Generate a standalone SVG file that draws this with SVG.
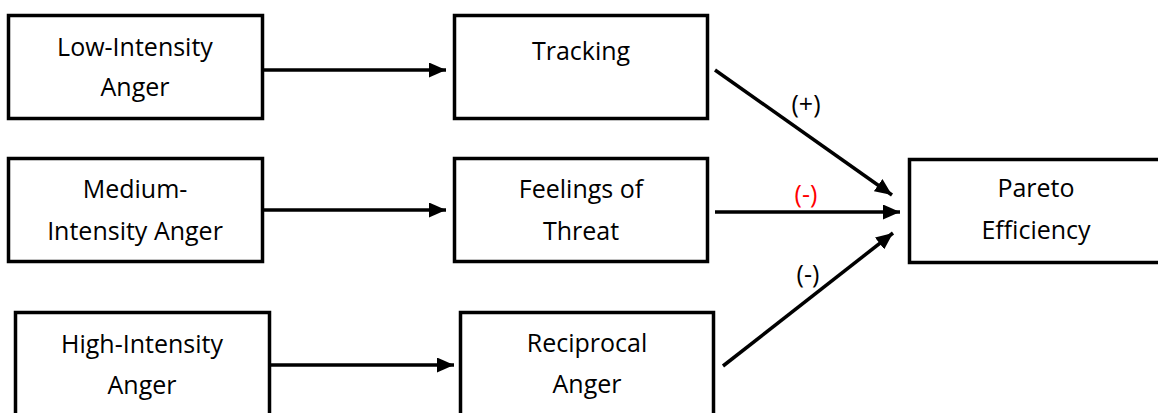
<svg xmlns="http://www.w3.org/2000/svg" width="1158" height="413" viewBox="0 0 1158 413">
<style>
.box{fill:#fff;stroke:#000;stroke-width:3.5}
.t{font-family:"Open Sans","Liberation Sans",sans-serif;font-size:25px;fill:#000;text-anchor:middle}
.red{fill:#ff0000}
.c{stroke:#000;stroke-width:3.5;fill:none;marker-end:url(#ah)}
</style>
<defs>
<marker id="ah" viewBox="0 0 17 15" refX="17" refY="7.5" markerWidth="17" markerHeight="15" markerUnits="userSpaceOnUse" orient="auto">
<path d="M0,0 L17,7.5 L0,15 z" fill="#000"/>
</marker>
</defs>
<rect width="1158" height="413" fill="#fff"/>
<g id="low">
<rect class="box" x="8.5" y="15.5" width="254" height="103"/>
<text class="t" x="135" y="56">Low-Intensity</text>
<text class="t" x="135" y="96">Anger</text>
</g>
<g id="tracking">
<rect class="box" x="454.5" y="15.5" width="253" height="103"/>
<text class="t" x="581" y="60">Tracking</text>
</g>
<g id="medium">
<rect class="box" x="8.5" y="158.5" width="254" height="103"/>
<text class="t" x="135" y="198">Medium-</text>
<text class="t" x="135" y="240">Intensity Anger</text>
</g>
<g id="threat">
<rect class="box" x="454.5" y="158.5" width="253" height="103"/>
<text class="t" x="581" y="198">Feelings of</text>
<text class="t" x="581" y="240">Threat</text>
</g>
<g id="pareto">
<rect class="box" x="909.5" y="159.5" width="254" height="103"/>
<text class="t" x="1036" y="197">Pareto</text>
<text class="t" x="1036" y="239">Efficiency</text>
</g>
<g id="high">
<rect class="box" x="15.5" y="312.5" width="254" height="110"/>
<text class="t" x="142" y="353">High-Intensity</text>
<text class="t" x="142" y="394">Anger</text>
</g>
<g id="reciprocal">
<rect class="box" x="460.5" y="312.5" width="253" height="110"/>
<text class="t" x="587" y="352">Reciprocal</text>
<text class="t" x="587" y="393">Anger</text>
</g>
<g id="connectors">
<line class="c" x1="263" y1="70" x2="446" y2="70"/>
<line class="c" x1="263" y1="210" x2="446" y2="210"/>
<line class="c" x1="270" y1="365" x2="454" y2="365"/>
<line class="c" x1="715" y1="70" x2="892" y2="195"/>
<line class="c" x1="715" y1="212" x2="900" y2="212"/>
<line class="c" x1="723" y1="366" x2="893" y2="233"/>
<text class="t" x="806" y="113">(+)</text>
<text class="t red" x="806" y="203">(-)</text>
<text class="t" x="808" y="283">(-)</text>
</g>
</svg>
